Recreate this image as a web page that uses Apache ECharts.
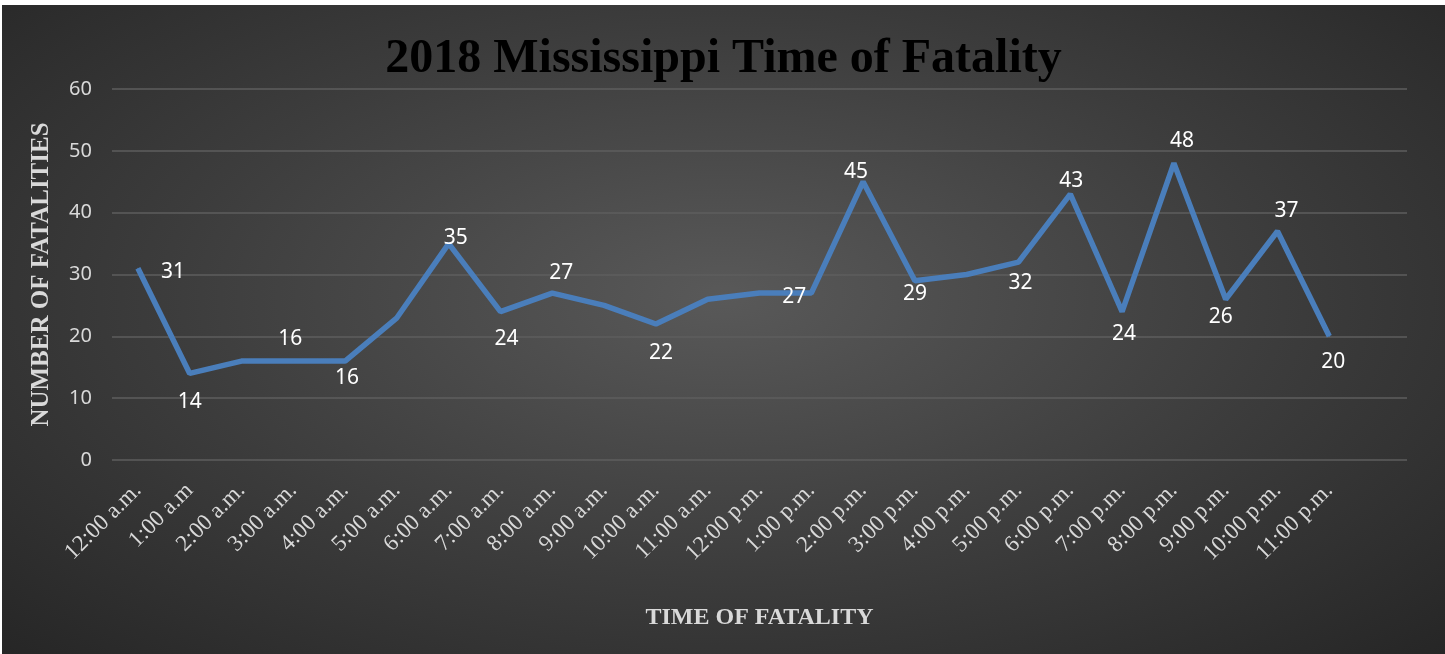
<!DOCTYPE html>
<html>
<head>
<meta charset="utf-8">
<script src="https://cdn.jsdelivr.net/npm/echarts@6/dist/echarts.min.js"></script>
<style>
  html, body { margin: 0; padding: 0; background: #fff; }
  #chart {
    position: absolute;
    left: 2px;
    top: 5px;
    width: 1443px;
    height: 649px;
    background: radial-gradient(ellipse at 50% 45%, #595959 0%, #3c3c3c 55%, #262626 100%);
  }
</style>
</head>
<body>
<div id="chart"></div>
<script>
const hours = [
  "12:00 a.m.", "1:00 a.m", "2:00 a.m.", "3:00 a.m.", "4:00 a.m.", "5:00 a.m.",
  "6:00 a.m.", "7:00 a.m.", "8:00 a.m.", "9:00 a.m.", "10:00 a.m.", "11:00 a.m.",
  "12:00 p.m.", "1:00 p.m.", "2:00 p.m.", "3:00 p.m.", "4:00 p.m.", "5:00 p.m.",
  "6:00 p.m.", "7:00 p.m.", "8:00 p.m.", "9:00 p.m.", "10:00 p.m.", "11:00 p.m."
];
const fatalities = [31, 14, 16, 16, 16, 23, 35, 24, 27, 25, 22, 26, 27, 27, 45, 29, 30, 32, 43, 24, 48, 26, 37, 20];
const yTicks = [0, 10, 20, 30, 40, 50, 60];

// label nudge from its point in px (null = no label), as placed in the original
const labelNudge = [
  [35, 4], [0, 29], null, [-3, -22], [2, 17], null, [7, -6], [6, 27], [9, -20], null, [5, 29], null,
  null, [-17, 4], [-7, -10], [0, 13], null, [2, 21], [1, -13], [2, 22], [8, -22], [-5, 18], [9, -20], [4, 26]
];

const chart = echarts.init(document.getElementById("chart"));

const seriesData = fatalities.map((v, i) => {
  const nudge = labelNudge[i];
  if (!nudge) return { value: v, label: { show: false } };
  return { value: v, label: { show: true, position: "inside", offset: nudge } };
});

// the original chart leaves one empty slot at the end of the axis
const axisCats = hours.concat([""]);

chart.setOption({
  backgroundColor: "transparent",
  title: {
    text: "2018 Mississippi Time of Fatality",
    left: "center",
    top: 26,
    textStyle: {
      fontFamily: "Liberation Serif",
      fontWeight: "bold",
      fontSize: 48,
      color: "#000"
    }
  },
  grid: {
    left: 110,
    right: 38,
    top: 84,
    bottom: 194
  },
  xAxis: {
    type: "category",
    data: axisCats,
    boundaryGap: true,
    name: "TIME OF FATALITY",
    nameLocation: "middle",
    nameGap: 146,
    nameTextStyle: {
      fontFamily: "Liberation Serif",
      fontWeight: "bold",
      fontSize: 24,
      color: "#d9d9d9"
    },
    axisLine: { show: false },
    axisTick: { show: false },
    axisLabel: {
      rotate: 45,
      interval: 0,
      margin: 27,
      fontFamily: "Liberation Serif",
      fontSize: 23,
      color: "#d9d9d9"
    }
  },
  yAxis: {
    type: "value",
    min: yTicks[0],
    max: yTicks[yTicks.length - 1],
    interval: 10,
    name: "NUMBER OF FATALITIES",
    nameLocation: "middle",
    nameGap: 58,
    nameTextStyle: {
      fontFamily: "Liberation Serif",
      fontWeight: "bold",
      fontSize: 25,
      color: "#d9d9d9"
    },
    axisLine: { show: false },
    axisTick: { show: false },
    axisLabel: {
      margin: 20,
      fontFamily: "Noto Sans",
      fontSize: 20,
      color: "#d9d9d9"
    },
    splitLine: { lineStyle: { color: "#5e5e5e", width: 1.5 } }
  },
  series: [
    {
      type: "line",
      data: seriesData,
      symbol: "circle",
      symbolSize: 1,
      showSymbol: true,
      itemStyle: { color: "#4a7ebb" },
      lineStyle: { color: "#4a7ebb", width: 5.5 },
      label: {
        show: true,
        fontFamily: "Noto Sans",
        fontSize: 21,
        color: "#fff"
      },
      z: 3
    }
  ]
});
</script>
</body>
</html>
